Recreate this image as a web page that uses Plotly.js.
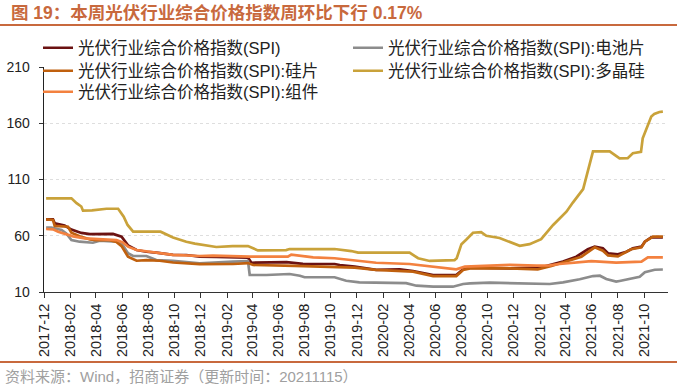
<!DOCTYPE html>
<html>
<head>
<meta charset="utf-8">
<script src="https://cdn.plot.ly/plotly-3.0.1.min.js"></script>
<style>
html,body{margin:0;padding:0;background:#fff;}
#chart{width:677px;height:384px;}
</style>
</head>
<body>
<div id="chart"></div>
<script>
// ---- Data ----
var seriesNames = [
  "光伏行业综合价格指数(SPI)",
  "光伏行业综合价格指数(SPI):电池片",
  "光伏行业综合价格指数(SPI):硅片",
  "光伏行业综合价格指数(SPI):多晶硅",
  "光伏行业综合价格指数(SPI):组件"
];

var spiDates = ["2017-12-06","2017-12-22","2017-12-26","2018-01-18","2018-02-03","2018-02-26","2018-03-18","2018-05-11","2018-05-31","2018-06-15","2018-07-05","2018-07-28","2018-08-20","2018-09-28","2018-10-29","2018-11-29","2019-01-07","2019-03-22","2019-03-30","2019-06-20","2019-07-28","2019-10-10","2019-10-22","2019-11-26","2020-01-15","2020-03-10","2020-04-10","2020-05-27","2020-07-20","2020-08-05","2020-08-21","2020-11-22","2021-01-30","2021-02-23","2021-03-26","2021-04-26","2021-05-23","2021-06-08","2021-06-27","2021-07-09","2021-08-01","2021-08-21","2021-09-05","2021-09-25","2021-10-03","2021-10-18","2021-11-14"];
var spiVals = [74.6,74.6,71,69,65.5,62.5,61.5,61.6,59.2,51.5,47.3,45.8,45,43,42.9,41.5,41.2,40.5,36,36.6,35,34.9,34,32.5,29.6,30.2,28.7,25.1,25.1,30.2,31.6,31,31.6,34,37,41.4,48,50.3,48.8,44.4,43.5,45.8,48.8,50.3,54.7,58.6,58.6];

var cellDates = ["2017-12-06","2017-12-18","2018-01-11","2018-01-22","2018-02-03","2018-02-22","2018-03-25","2018-04-10","2018-05-19","2018-05-31","2018-06-15","2018-06-27","2018-07-28","2018-08-20","2018-09-28","2018-11-29","2019-02-15","2019-03-22","2019-03-26","2019-05-04","2019-06-27","2019-07-21","2019-08-01","2019-10-10","2019-11-06","2019-11-26","2019-12-07","2020-03-25","2020-04-18","2020-05-27","2020-07-12","2020-08-05","2020-08-21","2020-10-06","2021-01-07","2021-02-23","2021-03-26","2021-05-04","2021-06-04","2021-06-20","2021-07-05","2021-07-28","2021-08-05","2021-08-28","2021-09-21","2021-10-03","2021-10-26","2021-11-14"];
var cellVals = [67.2,67.2,65.1,62.1,56.2,54.7,53.8,55.6,54.7,53.3,44.4,42,42,38.4,37.6,35.5,37,37.5,25.1,25.1,26,24.5,23.1,23.1,20,19.2,18.6,17.9,15.6,14.7,14.7,17.1,17.7,18.3,17.1,17.1,18.6,21.3,24.2,24.5,21.5,19.2,19.8,21.6,23.6,27.5,29.8,30];

var waferDates = ["2017-12-06","2017-12-22","2017-12-26","2018-01-26","2018-02-03","2018-02-22","2018-03-18","2018-04-02","2018-05-03","2018-05-19","2018-05-31","2018-06-15","2018-07-05","2018-07-28","2018-08-28","2018-09-28","2018-11-29","2019-02-15","2019-03-22","2019-04-03","2019-07-09","2019-10-22","2019-11-26","2020-01-15","2020-04-10","2020-05-27","2020-07-20","2020-08-05","2020-08-21","2020-11-22","2021-01-26","2021-02-27","2021-03-30","2021-05-08","2021-06-08","2021-06-27","2021-07-09","2021-08-01","2021-09-01","2021-09-25","2021-10-03","2021-10-22","2021-11-14"];
var waferVals = [74.6,74,68.7,68,62.7,59.5,56.8,56.2,56,54.5,50.8,41.4,37.8,38.4,37.8,36.2,34.7,34.9,35.7,34,33.2,32.5,31.6,29.6,28.1,24.2,24.2,29.6,31,31,30.2,33.1,37,41.4,49.7,46.7,42.5,41.6,48,49.7,54.7,59.2,59.2];

var polyDates = ["2017-12-06","2018-02-03","2018-02-15","2018-02-26","2018-03-02","2018-03-23","2018-04-26","2018-05-23","2018-06-05","2018-06-14","2018-06-27","2018-08-30","2018-09-28","2018-10-29","2018-11-18","2018-12-15","2019-01-07","2019-02-14","2019-03-22","2019-04-14","2019-06-19","2019-06-27","2019-10-10","2019-11-18","2019-12-04","2020-04-02","2020-04-22","2020-05-19","2020-07-16","2020-07-21","2020-08-01","2020-08-12","2020-08-28","2020-09-16","2020-09-28","2020-10-29","2020-11-25","2020-12-15","2021-01-07","2021-02-03","2021-03-03","2021-04-03","2021-04-18","2021-05-12","2021-06-04","2021-07-13","2021-08-05","2021-08-24","2021-09-05","2021-09-24","2021-09-28","2021-10-18","2021-10-25","2021-11-06","2021-11-14"];
var polyVals = [93.3,93.3,89,86,82.3,82.5,84,84,77,69.6,63.6,63.6,58.5,54.7,53,51.2,50,50.8,50.9,47,47.3,48.2,48.2,46.4,45,45,40,37.6,38.4,40,52.5,56.5,62.7,63.3,60,58,54,51,52.5,57,69.6,81.4,89.5,101.5,135,135,128.8,129,133.3,134.5,146.6,166,168.2,170,170.3];

var moduleDates = ["2017-12-06","2017-12-22","2018-01-03","2018-01-18","2018-02-07","2018-03-06","2018-04-10","2018-05-19","2018-06-03","2018-06-15","2018-07-05","2018-08-05","2018-09-28","2018-11-29","2018-12-30","2019-03-26","2019-06-23","2019-07-01","2019-08-01","2019-08-21","2019-10-10","2019-11-26","2020-01-15","2020-04-02","2020-05-27","2020-07-20","2020-08-09","2020-09-05","2020-11-22","2021-01-23","2021-02-23","2021-03-18","2021-04-15","2021-05-31","2021-07-28","2021-09-25","2021-10-10","2021-11-14"];
var moduleVals = [66,65.7,63.6,62.1,59.5,57.7,56.8,56.2,54,50.3,47.3,45.8,43,42,42.3,41.4,41.4,43.3,42,40.8,40,37.8,36,34.9,32.5,30.2,32.5,33.1,34.2,33.4,33.6,34.9,36,37.5,36.2,37,40.7,40.7];

var yTickVals = [10, 60, 110, 160, 210];

var titleText = "图 19：本周光伏行业综合价格指数周环比下行 0.17%";
var sourceText = "资料来源：Wind，招商证券（更新时间：20211115）";

// ---- Styles ----
var colors = ["#6B1212", "#8C8C8C", "#C0600E", "#C9A23A", "#F3813F"];
var legendIds = ["legend", "legend2", "legend3", "legend4", "legend5"];
// legend slot for each series: [left px, centre y px]
var legendSlots = [[38, 48], [348, 48], [38, 71], [348, 71], [38, 92]];
var dateSets = [spiDates, cellDates, waferDates, polyDates, moduleDates];
var valSets = [spiVals, cellVals, waferVals, polyVals, moduleVals];

var FONT = "Liberation Sans, Arial, Noto Sans CJK SC, sans-serif";
var W = 677, H = 384;
// plot area in pixels: x 44..668, y 67..292
var L = 44, R = 668, T = 67, B = 292;
function px(x) { return (x - L) / (R - L); }
function py(y) { return (B - y) / (B - T); }

var traces = seriesNames.map(function (n, i) {
  return {
    type: "scatter", mode: "lines", name: n,
    x: dateSets[i], y: valSets[i],
    line: { color: colors[i], width: 2.7 },
    legend: legendIds[i], hoverinfo: "skip"
  };
});

var layout = {
  width: W, height: H,
  margin: { l: L, r: W - R, t: T, b: H - B, pad: 0, autoexpand: false },
  paper_bgcolor: "#fff", plot_bgcolor: "#fff",
  font: { family: FONT, size: 13, color: "#222" },
  title: {
    text: "<b>" + titleText + "</b>",
    font: { family: FONT, size: 17.5, color: "#C8693D" },
    xref: "container", yref: "container", x: 11 / W, xanchor: "left",
    y: 1 - 13 / H, yanchor: "middle", automargin: false
  },
  showlegend: true,
  xaxis: {
    type: "date",
    range: ["2017-12-01", "2021-11-26"],
    tick0: "2017-12-01", dtick: "M2", tickformat: "%Y-%m",
    tickangle: -90, ticks: "outside", ticklen: 5, tickcolor: "#333", tickwidth: 1,
    showline: true, linecolor: "#333", linewidth: 1,
    showgrid: false, zeroline: false, automargin: false,
    tickfont: { family: FONT, size: 14.5, color: "#222" }
  },
  yaxis: {
    range: [10, 210], tickvals: yTickVals, ticktext: yTickVals.map(String),
    ticks: "outside", ticklen: 4, tickcolor: "#333",
    showline: true, linecolor: "#222", linewidth: 1.3,
    showgrid: true, gridcolor: "#DEDEDE", griddash: "dot", gridwidth: 1,
    zeroline: false, ticklabelstandoff: 6, automargin: false,
    tickfont: { family: FONT, size: 14, color: "#222" }
  },
  shapes: [
    { type: "line", xref: "paper", yref: "paper", x0: px(0), x1: px(W), y0: py(25), y1: py(25),
      line: { color: "#C8693D", width: 2 } },
    { type: "line", xref: "paper", yref: "paper", x0: px(0), x1: px(W), y0: py(362), y1: py(362),
      line: { color: "#C8693D", width: 2 } }
  ],
  annotations: [
    { text: sourceText, xref: "paper", yref: "paper", x: px(3), y: py(376),
      xanchor: "left", yanchor: "middle", showarrow: false,
      font: { family: FONT, size: 15, color: "#A0A0A0" } }
  ]
};

legendIds.forEach(function (id, i) {
  layout[id] = {
    orientation: "h", xref: "container", yref: "container",
    x: legendSlots[i][0] / W, xanchor: "left",
    y: 1 - legendSlots[i][1] / H, yanchor: "middle",
    font: { family: FONT, size: 16.5, color: "#222" },
    bgcolor: "rgba(0,0,0,0)", borderwidth: 0,
    itemclick: false, itemdoubleclick: false
  };
});

Plotly.newPlot("chart", traces, layout, { staticPlot: true, displayModeBar: false });
</script>
</body>
</html>
